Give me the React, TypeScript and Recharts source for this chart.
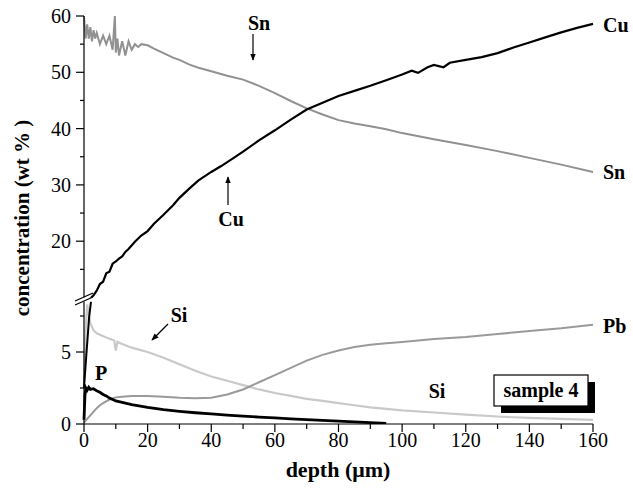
import React from 'react'
import { LineChart, Line, XAxis, YAxis } from 'recharts'

const FONT = '"Liberation Serif", "DejaVu Serif", "Times New Roman", serif'

// depth in µm, concentration in wt %
const cuDepth = [2, 3, 4, 5, 6, 7, 8, 9, 10, 11, 12, 13, 14, 16, 18, 20, 22, 25, 28, 30, 33, 36, 40, 43, 46, 50, 55, 60, 65, 70, 75, 80, 85, 90, 95, 100, 103, 105, 108, 110, 113, 115, 120, 125, 130, 135, 140, 145, 150, 155, 160]
const cuValues = [9.8, 10.4, 11.2, 12.4, 12.8, 14.3, 14.6, 16.0, 16.4, 16.9, 17.3, 18.1, 18.6, 19.9, 21.0, 21.8, 23.1, 24.7, 26.4, 27.7, 29.3, 30.8, 32.3, 33.3, 34.4, 35.9, 37.9, 39.7, 41.6, 43.4, 44.6, 45.8, 46.7, 47.6, 48.6, 49.6, 50.3, 49.9, 50.9, 51.3, 50.9, 51.7, 52.2, 52.7, 53.4, 54.4, 55.3, 56.2, 57.1, 57.9, 58.6]

const cuLowDepth = [0, 0.8, 1.6, 2.2]
const cuLowValues = [2.5, 5.0, 7.4, 8.5]

const snDepth = [0, 0.5, 1, 1.5, 2, 2.5, 3, 3.5, 4, 5, 6, 7, 8, 9, 9.7, 10, 10.5, 11, 12, 13, 14, 15, 16, 17, 18, 20, 22, 25, 28, 30, 33, 36, 40, 45, 50, 55, 60, 65, 70, 75, 80, 85, 90, 95, 100, 110, 120, 130, 140, 150, 160]
const snValues = [60, 56, 58.5, 56, 58, 55.5, 57.5, 56, 57, 55, 56.5, 55, 56.5, 54, 60, 53.5, 56, 53, 55.5, 53, 55.5, 54, 55, 54.5, 55, 54.8, 54.2, 53.4, 52.6, 52.2, 51.4, 50.8, 50.2, 49.4, 48.7, 47.6, 46.3, 44.9, 43.6, 42.5, 41.5, 40.9, 40.4, 39.9, 39.2, 38.1, 37.1, 36.0, 34.8, 33.6, 32.3]

const siDepth = [0, 0.5, 1, 1.5, 2, 3, 4, 5, 7, 9.5, 10, 10.5, 12, 15, 20, 25, 30, 35, 40, 45, 50, 55, 60, 65, 70, 75, 80, 85, 90, 100, 110, 120, 130, 140, 150, 160]
const siValues = [3.0, 6.5, 8.3, 7.6, 7.0, 6.5, 6.3, 6.2, 6.0, 5.8, 5.1, 5.7, 5.55, 5.3, 5.0, 4.6, 4.15, 3.7, 3.3, 3.0, 2.7, 2.4, 2.15, 1.95, 1.75, 1.6, 1.45, 1.3, 1.15, 0.95, 0.8, 0.65, 0.52, 0.42, 0.35, 0.28]

const pbDepth = [0, 1, 2, 3, 4, 5, 6, 8, 10, 12, 15, 20, 25, 30, 35, 40, 45, 50, 55, 60, 65, 70, 75, 80, 85, 90, 95, 100, 110, 120, 130, 140, 150, 160]
const pbValues = [0.1, 0.35, 0.6, 0.85, 1.1, 1.3, 1.45, 1.7, 1.85, 1.9, 1.95, 1.95, 1.9, 1.82, 1.78, 1.82, 2.05, 2.4, 2.9, 3.4, 3.9, 4.4, 4.8, 5.1, 5.35, 5.5, 5.6, 5.7, 5.9, 6.05, 6.25, 6.45, 6.65, 6.9]

const pDepth = [0, 0.3, 0.6, 1, 1.5, 2, 3, 4, 5, 6, 7, 8, 10, 12, 15, 20, 25, 30, 35, 40, 45, 50, 55, 60, 65, 70, 75, 80, 85, 90, 95]
const pValues = [0.3, 2.0, 2.5, 2.35, 2.55, 2.4, 2.45, 2.3, 2.2, 2.05, 1.95, 1.8, 1.6, 1.5, 1.35, 1.15, 1.0, 0.88, 0.78, 0.7, 0.62, 0.55, 0.48, 0.42, 0.36, 0.3, 0.25, 0.2, 0.15, 0.1, 0.05]

const xTicks = [0, 10, 20, 30, 40, 50, 60, 70, 80, 90, 100, 110, 120, 130, 140, 150, 160]
const xLabels = [0, 20, 40, 60, 80, 100, 120, 140, 160]
const upperTicks = [15, 20, 25, 30, 35, 40, 45, 50, 55, 60]
const upperLabels = [20, 30, 40, 50, 60]
const lowerTicks = [0, 2.5, 5, 7.5]
const lowerLabels = [0, 5]

const toRows = (depth: number[], values: number[]) =>
  depth.map((d, i) => ({ depth: d, value: values[i] }))

const COLORS = {
  cu: '#000000',
  sn: '#919191',
  pb: '#9a9a9a',
  si: '#c9c9c9',
  p: '#000000',
}

const plain = { fontFamily: FONT, fontSize: 20, fill: '#000' }
const bold = { fontFamily: FONT, fontSize: 20, fontWeight: 700, fill: '#000' }

function YTick(props: any) {
  const { x, y, payload, labels } = props
  const major = labels.includes(payload.value)
  return (
    <g>
      <line x1={x - (major ? 8 : 4)} x2={x} y1={y} y2={y} stroke="#000" strokeWidth={1.2} />
      {major && (
        <text x={x - 13} y={y} dy="0.35em" textAnchor="end" style={plain}>
          {payload.value}
        </text>
      )}
    </g>
  )
}

function XTick(props: any) {
  const { x, y, payload } = props
  const major = xLabels.includes(payload.value)
  return (
    <g>
      <line x1={x} x2={x} y1={y} y2={y + (major ? 8 : 5)} stroke="#000" strokeWidth={1.2} />
      {major && (
        <text x={x} y={y + 23} textAnchor="middle" style={plain}>
          {payload.value}
        </text>
      )}
    </g>
  )
}

function Overlay() {
  return (
    <svg width={633} height={490} style={{ position: 'absolute', left: 0, top: 0, pointerEvents: 'none' }}>
      <defs>
        <marker id="arrow" viewBox="0 0 10 10" refX="9" refY="5" markerWidth="6" markerHeight="8" orient="auto">
          <path d="M0,1 L10,5 L0,9 z" fill="#000" />
        </marker>
      </defs>
      {/* axis break */}
      <rect x={78} y={297.5} width={12} height={4} fill="#fff" />
      <line x1={75} y1={305} x2={93} y2={297} stroke="#000" strokeWidth={1.2} />
      <line x1={75} y1={301} x2={93} y2={293} stroke="#000" strokeWidth={1.2} />

      <text x={22} y={218} transform="rotate(-90 22 218)" textAnchor="middle" dominantBaseline="central" style={{ ...bold, fontSize: 21 }}>
        concentration (wt % )
      </text>
      <text x={338} y={477} textAnchor="middle" style={{ ...bold, fontSize: 22 }}>
        depth (μm)
      </text>

      <text x={603} y={32} style={bold}>Cu</text>
      <text x={603} y={179} style={bold}>Sn</text>
      <text x={603} y={333} style={bold}>Pb</text>
      <text x={437} y={398} textAnchor="middle" style={bold}>Si</text>
      <text x={101} y={380} textAnchor="middle" style={bold}>P</text>

      <text x={259} y={30} textAnchor="middle" style={bold}>Sn</text>
      <line x1={253} y1={34} x2={253} y2={60} stroke="#000" strokeWidth={1.2} markerEnd="url(#arrow)" />

      <text x={231} y={226} textAnchor="middle" style={bold}>Cu</text>
      <line x1={228} y1={205} x2={228} y2={177} stroke="#000" strokeWidth={1.2} markerEnd="url(#arrow)" />

      <text x={179} y={322} textAnchor="middle" style={bold}>Si</text>
      <line x1={168} y1={324} x2={152} y2={340} stroke="#000" strokeWidth={1.2} markerEnd="url(#arrow)" />

      <rect x={501} y={382} width={94} height={31} fill="#000" />
      <rect x={494} y={375} width={94} height={31} fill="#fff" stroke="#000" strokeWidth={1.2} />
      <text x={541} y={397} textAnchor="middle" style={bold}>sample 4</text>
    </svg>
  )
}

export default function App() {
  return (
    <div style={{ position: 'absolute', left: 0, top: 0, width: 633, height: 490, background: '#fff', fontFamily: FONT }}>
      <div style={{ position: 'absolute', left: 0, top: 0 }}>
        <LineChart width={633} height={300} margin={{ top: 16, right: 40, left: 0, bottom: 2.5 }}>
          <XAxis type="number" dataKey="depth" domain={[0, 160]} hide />
          <YAxis
            type="number"
            width={84}
            domain={[10, 60]}
            ticks={upperTicks}
            allowDataOverflow
            tickSize={0}
            tickMargin={0}
            tickLine={false}
            axisLine={{ stroke: '#000', strokeWidth: 1.2 }}
            tick={(p: any) => <YTick {...p} labels={upperLabels} />}
          />
          <Line data={toRows(snDepth, snValues)} dataKey="value" stroke={COLORS.sn} strokeWidth={2} dot={false} isAnimationActive={false} />
          <Line data={toRows(cuDepth, cuValues)} dataKey="value" stroke={COLORS.cu} strokeWidth={2.2} dot={false} isAnimationActive={false} />
        </LineChart>
      </div>
      <div style={{ position: 'absolute', left: 0, top: 290 }}>
        <LineChart width={633} height={200} margin={{ top: 11.6, right: 40, left: 0, bottom: 0 }}>
          <XAxis
            type="number"
            dataKey="depth"
            domain={[0, 160]}
            ticks={xTicks}
            height={66}
            tickSize={0}
            tickMargin={0}
            tickLine={false}
            axisLine={{ stroke: '#000', strokeWidth: 1.2 }}
            tick={(p: any) => <XTick {...p} />}
          />
          <YAxis
            type="number"
            width={84}
            domain={[0, 8.5]}
            ticks={lowerTicks}
            allowDataOverflow
            tickSize={0}
            tickMargin={0}
            tickLine={false}
            axisLine={{ stroke: '#000', strokeWidth: 1.2 }}
            tick={(p: any) => <YTick {...p} labels={lowerLabels} />}
          />
          <Line data={toRows(siDepth, siValues)} dataKey="value" stroke={COLORS.si} strokeWidth={2.2} dot={false} isAnimationActive={false} />
          <Line data={toRows(pbDepth, pbValues)} dataKey="value" stroke={COLORS.pb} strokeWidth={2} dot={false} isAnimationActive={false} />
          <Line data={toRows(pDepth, pValues)} dataKey="value" stroke={COLORS.p} strokeWidth={2.8} dot={false} isAnimationActive={false} />
          <Line data={toRows(cuLowDepth, cuLowValues)} dataKey="value" stroke={COLORS.cu} strokeWidth={2} dot={false} isAnimationActive={false} />
        </LineChart>
      </div>
      <Overlay />
    </div>
  )
}
